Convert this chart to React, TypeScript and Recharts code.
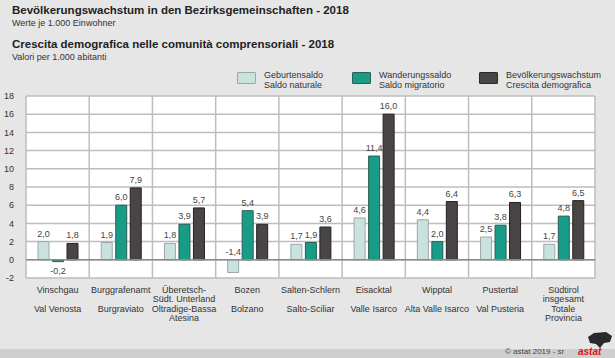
import React from "react";
import { BarChart, Bar, XAxis, YAxis, CartesianGrid, ReferenceLine, LabelList } from "recharts";

const categoriesDe: string[][] = [
  ["Vinschgau"], ["Burggrafenamt"], ["Überetsch-", "Südt. Unterland"], ["Bozen"],
  ["Salten-Schlern"], ["Eisacktal"], ["Wipptal"], ["Pustertal"], ["Südtirol", "insgesamt"],
];
const categoriesIt: string[][] = [
  ["Val Venosta"], ["Burgraviato"], ["Oltradige-Bassa", "Atesina"], ["Bolzano"],
  ["Salto-Sciliar"], ["Valle Isarco"], ["Alta Valle Isarco"], ["Val Pusteria"], ["Totale", "Provincia"],
];
const naturalBalance = [2.0, 1.9, 1.8, -1.4, 1.7, 4.6, 4.4, 2.5, 1.7];
const migrationBalance = [-0.2, 6.0, 3.9, 5.4, 1.9, 11.4, 2.0, 3.8, 4.8];
const populationGrowth = [1.8, 7.9, 5.7, 3.9, 3.6, 16.0, 6.4, 6.3, 6.5];
const yTicks = [-2, 0, 2, 4, 6, 8, 10, 12, 14, 16, 18];

const data = categoriesDe.map((de, i) => ({
  key: String(i),
  de,
  it: categoriesIt[i],
  nat: naturalBalance[i],
  mig: migrationBalance[i],
  grow: populationGrowth[i],
}));

const FONT = "'Liberation Sans', Arial, sans-serif";
const fmt = (v: number) => v.toFixed(1).replace(".", ",");

const XTick = (props: any) => {
  const { x, y, index } = props;
  const d = data[index];
  if (!d) return null;
  const lines: { t: string; dy: number }[] = [];
  d.de.forEach((t, k) => lines.push({ t, dy: 14.5 + k * 9.5 }));
  d.it.forEach((t, k) => lines.push({ t, dy: 33.5 + k * 9.5 }));
  return (
    <g>
      {lines.map((l, k) => (
        <text key={k} x={x} y={y + l.dy} textAnchor="middle" fontSize={9} fill="#333" fontFamily={FONT}>
          {l.t}
        </text>
      ))}
    </g>
  );
};

const makeLabel = (props: any) => {
  const { x, y, width, height, value } = props;
  const cx = x + width / 2;
  const top = Math.min(y, y + height);
  const bottom = Math.max(y, y + height);
  let ty: number;
  if (value >= 0) {
    ty = top - 5;
  } else if (value > -1) {
    ty = bottom + 12;
  } else {
    ty = top - 5;
  }
  return (
    <text x={cx} y={ty} textAnchor="middle" fontSize={9} fill="#444" fontFamily={FONT}>
      {fmt(value)}
    </text>
  );
};

const legendItems = [
  { color: "#c9e2de", stroke: "#9aa8a6", l1: "Geburtensaldo", l2: "Saldo naturale", x: 237 },
  { color: "#189c87", stroke: "#2b5e55", l1: "Wanderungssaldo", l2: "Saldo migratorio", x: 352 },
  { color: "#4a4545", stroke: "#2a2a2a", l1: "Bevölkerungswachstum", l2: "Crescita demografica", x: 479 },
];

export default function App() {
  return (
    <div style={{ position: "absolute", left: 0, top: 0, width: 615, height: 358, background: "#e6e6e6", fontFamily: FONT, overflow: "hidden" }}>
      <div style={{ position: "absolute", left: 12, top: 4, fontSize: 11.5, fontWeight: "bold", color: "#222" }}>
        Bevölkerungswachstum in den Bezirksgemeinschaften - 2018
      </div>
      <div style={{ position: "absolute", left: 12, top: 18, fontSize: 9, color: "#333" }}>Werte je 1.000 Einwohner</div>
      <div style={{ position: "absolute", left: 12, top: 38, fontSize: 11.5, fontWeight: "bold", color: "#222" }}>
        Crescita demografica nelle comunità comprensoriali - 2018
      </div>
      <div style={{ position: "absolute", left: 12, top: 52, fontSize: 9, color: "#333" }}>Valori per 1.000 abitanti</div>

      {legendItems.map((it, k) => (
        <div key={k}>
          <div style={{ position: "absolute", left: it.x, top: 72, width: 17, height: 10, background: it.color, border: `1px solid ${it.stroke}`, borderRadius: 1 }} />
          <div style={{ position: "absolute", left: it.x + 27, top: 70, fontSize: 9, color: "#333", lineHeight: "10px" }}>
            {it.l1}
            <br />
            {it.l2}
          </div>
        </div>
      ))}

      <div style={{ position: "absolute", left: 0, top: 0 }}>
        <BarChart width={615} height={358} data={data} margin={{ top: 96, right: 20, bottom: 10, left: 0 }} barSize={11} barGap={3.5}>
          <CartesianGrid
            fill="#ffffff"
            stroke="#bdbdbd"
            strokeWidth={1.5}
            verticalCoordinatesGenerator={({ offset }: any) => {
              const arr: number[] = [];
              for (let i = 0; i <= data.length; i++) arr.push(offset.left + (i * offset.width) / data.length);
              return arr;
            }}
          />
          <XAxis dataKey="key" axisLine={false} tickLine={false} tickSize={0} tickMargin={0} height={70} interval={0} tick={<XTick />} />
          <YAxis
            domain={[-2, 18]}
            ticks={yTicks}
            width={26}
            axisLine={false}
            tickLine={false}
            tickMargin={6}
            interval={0}
            tick={{ fontSize: 9, fill: "#333", fontFamily: FONT }}
          />
          <ReferenceLine y={0} stroke="#8a8a8a" strokeWidth={1.5} />
          <Bar dataKey="nat" fill="#c9e2de" stroke="#9aa8a6" strokeWidth={1} isAnimationActive={false}>
            <LabelList dataKey="nat" content={makeLabel} />
          </Bar>
          <Bar dataKey="mig" fill="#189c87" stroke="#2b5e55" strokeWidth={1} isAnimationActive={false}>
            <LabelList dataKey="mig" content={makeLabel} />
          </Bar>
          <Bar dataKey="grow" fill="#4a4545" stroke="#222" strokeWidth={1} isAnimationActive={false}>
            <LabelList dataKey="grow" content={makeLabel} />
          </Bar>
        </BarChart>
      </div>

      <div style={{ position: "absolute", left: 0, top: 349, width: 615, height: 9, background: "#cfcfcf" }} />
      <div style={{ position: "absolute", left: 505, top: 347, fontSize: 8, color: "#444", lineHeight: "10px" }}>© astat 2019 - sr</div>
      <div style={{ position: "absolute", left: 578, top: 346, fontSize: 10, fontWeight: "bold", color: "#e01010", lineHeight: "11px", fontStyle: "italic" }}>astat</div>
      <svg style={{ position: "absolute", left: 586, top: 331 }} width={28} height={18}>
        <path d="M2 6 L8 2 L20 1 L26 5 L24 11 L18 12 L14 17 L10 13 L4 12 Z" fill="#2a2a2a" />
      </svg>
    </div>
  );
}
